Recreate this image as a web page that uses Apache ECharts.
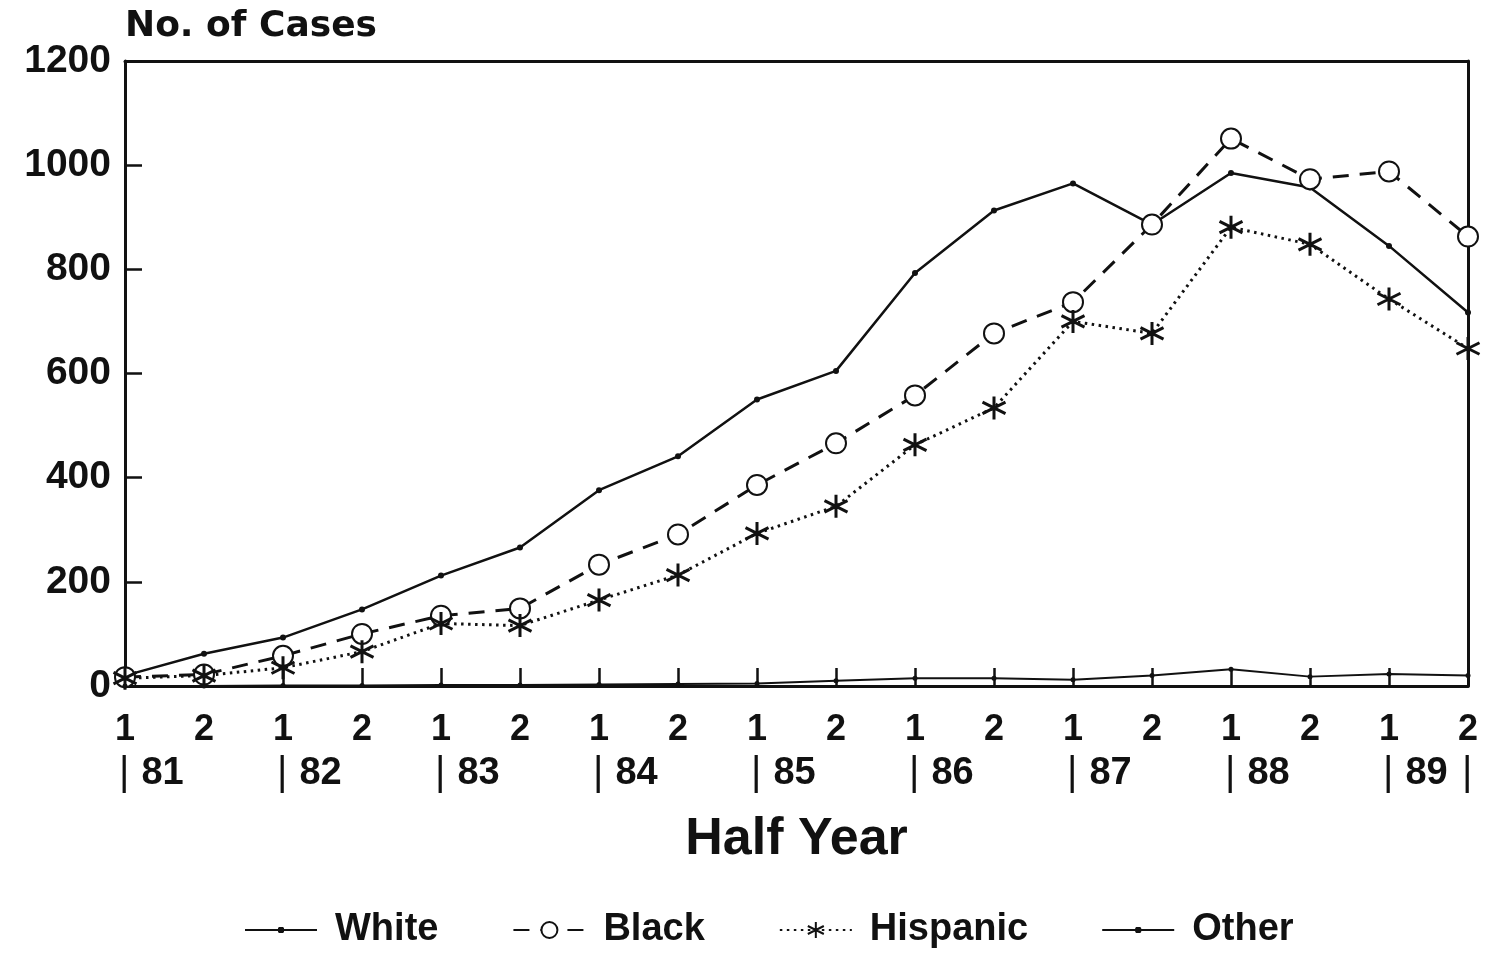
<!DOCTYPE html>
<html>
<head>
<meta charset="utf-8">
<title>No. of Cases by Half Year</title>
<script src="https://cdn.jsdelivr.net/npm/echarts@6/dist/echarts.min.js"></script>
<style>
  html, body { margin: 0; padding: 0; background: #fff; }
  #chart { width: 1490px; height: 956px; }
</style>
</head>
<body>
<div id="chart"></div>
<script>
// half-year categories, 81-1 .. 89-2
var halves = ['1', '2', '1', '2', '1', '2', '1', '2', '1', '2', '1', '2', '1', '2', '1', '2', '1', '2'];
var years = ['81', '', '82', '', '83', '', '84', '', '85', '', '86', '', '87', '', '88', '', '89', ''];

// cases per half year
var white = [20, 62, 93, 147, 212, 266, 376, 441, 550, 605, 793, 913, 965, 886, 985, 957, 845, 717];
var black = [17, 22, 58, 100, 135, 149, 233, 291, 386, 466, 558, 677, 737, 886, 1051, 973, 988, 863];
var hispanic = [15, 20, 35, 66, 120, 116, 165, 213, 293, 345, 463, 534, 700, 677, 881, 848, 743, 648];
var other = [0, 0, 1, 1, 2, 2, 3, 4, 5, 10, 15, 15, 12, 20, 32, 18, 23, 20];

var yTicks = { min: 0, max: 1200, interval: 200 };

var ink = '#111';
var font = 'Liberation Sans, Arial, Helvetica, sans-serif';
var asterisk = 'path://M10,0 L10,20 M1.34,5 L18.66,15 M1.34,15 L18.66,5';
// legend sample: thin line with a small dot, in a 72x20 box
var lineDot = 'path://M0,0 L0.01,0 L0,0.01 Z M72,20 L71.99,20 L72,19.99 Z ' +
  'M0,9 L72,9 L72,11 L0,11 Z M34,7 L38,7 L39,8 L39,12 L38,13 L34,13 L33,12 L33,8 Z';

var chart = echarts.init(document.getElementById('chart'));

var option = {
  backgroundColor: '#fff',
  animation: false,
  grid: [
    { left: 125, right: 22, top: 61, bottom: 270 },
    // same width, nudged left so the year bars sit on the ticks
    { left: 119, right: 28, top: 61, bottom: 270 }
  ],
  legend: {
    left: 240,
    top: 906,
    itemWidth: 72,
    itemHeight: 20,
    itemGap: 74,
    textStyle: { color: ink, fontSize: 38, fontWeight: 'bold', fontFamily: font, padding: [0, 0, 0, 13] },
    data: [
      { name: 'White', icon: lineDot },
      'Black',
      'Hispanic',
      { name: 'Other', icon: lineDot }
    ]
  },
  xAxis: [
    {
      type: 'category',
      data: halves,
      boundaryGap: false,
      position: 'bottom',
      axisLine: { onZero: false, lineStyle: { color: ink, width: 3 } },
      axisTick: { inside: true, length: 18, interval: 0, lineStyle: { color: ink, width: 2.5 } },
      axisLabel: { interval: 0, margin: 26, color: ink, fontSize: 36, fontWeight: 'bold', fontFamily: font },
      name: 'Half Year',
      nameLocation: 'middle',
      nameGap: 128,
      nameTextStyle: { color: ink, fontSize: 52, fontWeight: 'bold', fontFamily: font }
    },
    {
      type: 'category',
      gridIndex: 1,
      data: years,
      boundaryGap: false,
      position: 'bottom',
      offset: 60,
      axisLine: { show: false, onZero: false },
      axisTick: { show: false },
      axisLabel: {
        interval: function (i) { return i % 2 === 0 || i === years.length - 1; },
        formatter: function (v) { return v ? '{p||}' + v : '{p||}'; },
        align: 'left',
        margin: 8,
        color: ink, fontSize: 38, fontWeight: 'bold', fontFamily: font,
        rich: {
          p: { fontSize: 40, fontWeight: 'normal', fontFamily: font, color: ink, padding: [0, 12, 0, 0] }
        }
      }
    },
    {
      type: 'category',
      data: halves,
      boundaryGap: false,
      position: 'top',
      axisLine: { onZero: false, lineStyle: { color: ink, width: 3 } },
      axisTick: { show: false },
      axisLabel: { show: false }
    }
  ],
  yAxis: [
    {
      type: 'value',
      min: yTicks.min,
      max: yTicks.max,
      interval: yTicks.interval,
      axisLine: { show: true, onZero: false, lineStyle: { color: ink, width: 3 } },
      axisTick: { show: true, inside: true, length: 17, lineStyle: { color: ink, width: 2.5 } },
      splitLine: { show: false },
      axisLabel: {
        margin: 14, color: ink, fontSize: 39, fontWeight: 'bold', fontFamily: font,
        formatter: function (v) { return String(v); }
      },
      name: 'No. of Cases',
      nameLocation: 'end',
      nameGap: 16,
      nameTextStyle: { align: 'left', color: ink, fontSize: 36, fontWeight: 'bold', fontFamily: 'DejaVu Sans, sans-serif' }
    },
    {
      type: 'value',
      position: 'right',
      min: yTicks.min,
      max: yTicks.max,
      interval: yTicks.interval,
      axisLine: { show: true, onZero: false, lineStyle: { color: ink, width: 3 } },
      axisTick: { show: false },
      axisLabel: { show: false },
      splitLine: { show: false }
    },
    {
      type: 'value',
      gridIndex: 1,
      show: false
    }
  ],
  series: [
    {
      name: 'White',
      type: 'line',
      data: white,
      symbol: 'circle',
      symbolSize: 6,
      itemStyle: { color: ink },
      lineStyle: { color: ink, width: 2.5 }
    },
    {
      name: 'Black',
      type: 'line',
      data: black,
      symbol: 'emptyCircle',
      symbolSize: 20,
      itemStyle: { color: ink, borderColor: ink, borderWidth: 2.5 },
      lineStyle: { color: ink, width: 3, type: [16, 11] }
    },
    {
      name: 'Hispanic',
      type: 'line',
      data: hispanic,
      symbol: asterisk,
      symbolSize: [23, 23],
      itemStyle: { color: 'none', borderColor: ink, borderWidth: 3 },
      lineStyle: { color: ink, width: 3, type: [2.5, 4.5] }
    },
    {
      name: 'Other',
      type: 'line',
      data: other,
      symbol: 'circle',
      symbolSize: 5,
      itemStyle: { color: ink },
      lineStyle: { color: ink, width: 2 }
    }
  ]
};

chart.setOption(option);
</script>
</body>
</html>
